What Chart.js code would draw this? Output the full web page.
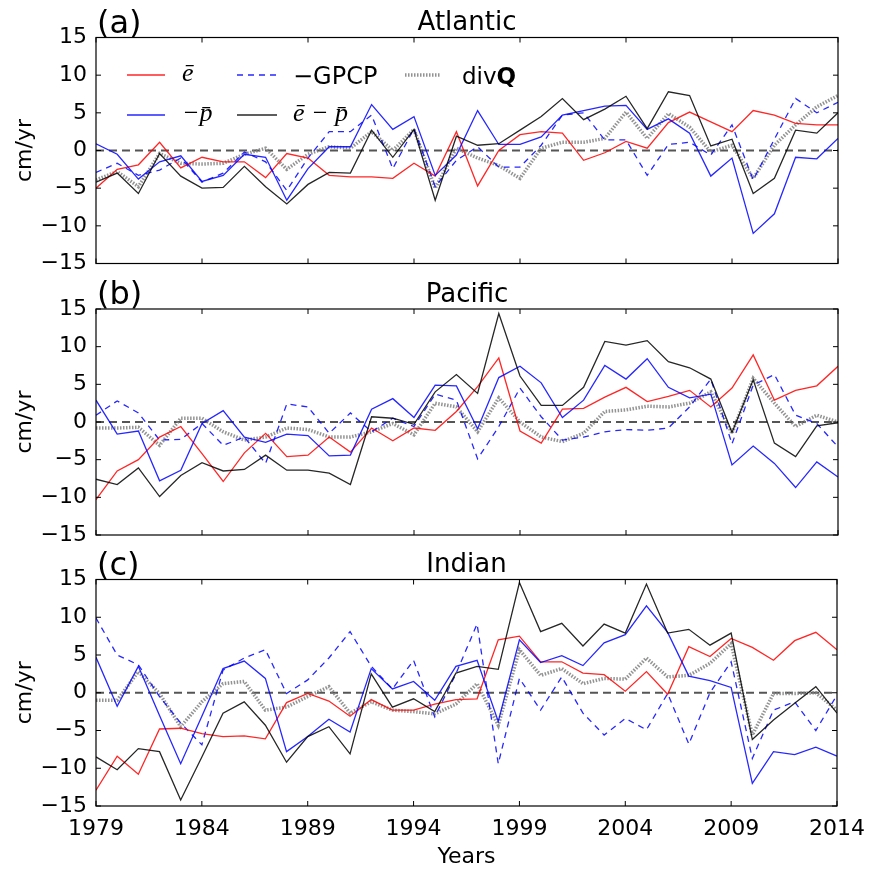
<!DOCTYPE html>
<html><head><meta charset="utf-8">
<script src="https://cdn.jsdelivr.net/npm/chart.js@4.4.0/dist/chart.umd.min.js"></script>
<style>
html,body{margin:0;padding:0;background:#fff;}
#wrap{position:relative;width:875px;height:874px;}
canvas{position:absolute;left:0;top:0;}
</style></head><body>
<div id="wrap">
<canvas id="c0" width="875" height="874"></canvas>
<canvas id="c1" width="875" height="874"></canvas>
<canvas id="c2" width="875" height="874"></canvas>
</div>
<script>
// ---------- data ----------
const years = [1979,1980,1981,1982,1983,1984,1985,1986,1987,1988,1989,1990,
               1991,1992,1993,1994,1995,1996,1997,1998,1999,2000,2001,2002,
               2003,2004,2005,2006,2007,2008,2009,2010,2011,2012,2013,2014];
const xTicks = [1979,1984,1989,1994,1999,2004,2009,2014];
const yTicks = [-15,-10,-5,0,5,10,15];
const panelNames = ['Atlantic','Pacific','Indian'];
const panelTags = ['(a)','(b)','(c)'];
const legendLabels = {e:'ē', p:'\u2212p\u0304', g:'\u2212GPCP', ep:'ē \u2212 p\u0304', dq:'div'};

// Atlantic
const eAtl  = [-5.0,-2.5,-1.9,1.1,-2.3,-0.9,-1.5,-1.5,-3.6,-0.4,-1.0,-3.3, -3.5,-3.5,-3.7,-1.7,-3.4,2.5,-4.7,0.0,2.1,2.5,2.3,-1.3, -0.3,1.2,0.3,3.7,5.1,3.8,2.5,5.3,4.7,3.6,3.4,3.4];
const pAtl  = [0.9,-0.5,-3.8,-1.5,-0.7,-4.1,-3.3,-0.5,-0.9,-6.6,-2.4,0.5, 0.5,6.1,2.8,4.5,-3.3,-0.6,5.3,0.8,0.8,1.8,4.7,5.3, 5.9,6.0,2.8,4.2,2.3,-3.4,-1.0,-11.0,-8.4,-0.9,-1.1,1.6];
const epAtl = [-4.2,-3.0,-5.7,-0.4,-3.4,-5.0,-4.9,-2.1,-4.8,-7.1,-4.5,-2.9, -3.0,2.7,-0.9,2.8,-6.6,1.9,0.7,0.9,2.7,4.5,6.9,4.1, 5.5,7.2,2.9,7.8,7.3,0.6,1.5,-5.7,-3.7,2.7,2.3,5.0];
const gAtl  = [-2.9,-1.7,-3.3,-2.6,-1.0,-4.2,-3.0,-0.2,-1.5,-5.3,-1.0,2.5, 2.5,4.7,-2.4,2.9,-4.8,-1.3,0.5,-2.2,-2.2,0.7,4.7,5.0, 1.4,1.4,-3.3,0.8,1.1,-0.6,3.4,-3.9,1.5,6.9,5.0,6.4];
const dqAtl = [-3.9,-2.8,-4.8,-0.4,-1.7,-1.8,-1.7,-0.5,0.3,-2.5,-0.5,0.5, 0.3,2.5,0.0,2.8,-5.0,0.3,-1.0,-2.0,-3.7,0.3,1.1,1.1, 1.6,5.1,1.6,4.9,3.1,-0.2,0.7,-3.7,0.7,3.4,5.8,7.3];
// Pacific
const ePac  = [-10.3,-6.5,-5.0,-2.0,-0.6,-4.2,-7.9,-4.1,-1.5,-4.6,-4.4,-2.0, -4.0,-0.8,-2.5,-0.8,-1.1,1.4,4.7,8.5,-1.2,-2.8,1.7,1.8, 3.3,4.6,2.7,3.4,4.2,2.0,4.5,8.9,2.9,4.2,4.8,7.4];
const pPac  = [2.9,-1.6,-1.2,-7.8,-6.4,-0.2,1.5,-2.0,-2.7,-1.6,-1.8,-4.5, -4.4,1.7,3.1,0.6,4.9,4.8,-0.9,5.9,7.4,5.2,0.6,2.9, 7.5,5.7,8.4,4.6,3.2,3.7,-5.7,-3.2,-5.5,-8.7,-5.3,-7.3];
const epPac = [-7.6,-8.3,-6.1,-9.9,-7.1,-5.4,-6.5,-6.3,-4.4,-6.4,-6.4,-6.8, -8.3,0.7,0.5,-0.3,4.0,6.3,3.8,14.4,6.1,2.2,2.2,4.6, 10.7,10.2,10.8,8.0,7.2,5.7,-1.4,5.6,-2.8,-4.6,-0.5,-0.1];
const gPac  = [0.9,2.8,1.2,-2.4,-2.3,-0.2,-3.1,-2.0,-5.5,2.4,2.0,-1.5, 1.2,-1.3,0.5,-0.6,3.7,2.9,-4.9,-0.6,4.5,0.7,-2.4,-2.0, -1.3,-1.0,-1.1,-0.8,2.0,5.7,-2.9,4.9,6.3,0.9,-0.2,-3.3];
const dqPac = [-0.8,-0.8,-0.7,-3.1,0.5,0.5,-1.3,-2.4,-2.0,-0.8,-1.0,-2.0, -2.0,-1.3,-0.2,-1.7,2.5,2.0,-1.3,3.2,0.0,-2.0,-2.6,-1.5, 1.4,1.6,2.1,2.0,2.5,4.0,-1.5,5.8,2.5,-0.6,0.9,0.0];
// Indian
const eInd  = [-12.9,-8.4,-10.8,-4.8,-4.7,-5.4,-5.8,-5.7,-6.1,-1.3,-0.1,-1.1, -3.1,-0.9,-2.3,-2.3,-1.5,-0.9,-0.8,7.0,7.5,4.1,4.1,2.6, 2.4,0.2,2.8,-0.2,6.1,4.8,7.2,6.0,4.3,6.9,8.0,5.7];
const pInd  = [4.7,-1.8,3.5,-3.0,-9.4,-3.1,3.2,4.2,1.9,-7.8,-5.8,-3.5, -5.2,3.2,0.5,1.5,-1.0,3.5,4.3,-3.8,7.0,4.0,4.9,3.6, 6.6,7.7,11.5,8.0,2.2,1.6,0.7,-12.0,-7.8,-8.2,-7.2,-8.4];
const epInd = [-8.5,-10.2,-7.4,-7.8,-14.2,-8.5,-2.7,-1.2,-4.3,-9.2,-5.8,-4.5, -8.1,2.5,-1.9,-0.8,-2.5,2.6,3.5,3.1,14.6,8.1,9.2,6.2, 9.1,7.9,14.4,7.9,8.4,6.3,7.9,-6.2,-3.6,-1.4,0.8,-2.7];
const gInd  = [9.9,5.0,3.7,-0.5,-4.0,-6.9,3.0,4.6,5.7,-0.1,1.7,4.6, 8.1,3.5,0.5,4.3,-3.2,2.5,9.1,-9.4,1.9,-2.3,2.1,-2.7, -5.6,-3.4,-4.9,-0.1,-6.8,0.0,4.1,-8.7,-2.3,-1.2,-5.0,-0.3];
const dqInd = [-1.0,-1.0,2.8,-0.1,-4.5,-1.2,1.2,1.5,-2.3,-1.9,-0.5,0.8, -2.7,-1.2,-2.3,-2.5,-2.8,-1.5,1.2,-4.3,5.7,2.3,3.2,1.2, 1.9,1.8,4.6,2.1,2.3,3.9,6.5,-5.6,-0.1,-0.1,0.0,-2.3];

// ---------- styles ----------
const STY = {
  e:  {borderColor:'rgba(255,0,0,0.85)', borderWidth:1.3, borderDash:[]},
  p:  {borderColor:'rgba(0,0,255,0.85)', borderWidth:1.3, borderDash:[]},
  g:  {borderColor:'rgba(0,0,255,0.85)', borderWidth:1.3, borderDash:[6,5]},
  ep: {borderColor:'rgba(0,0,0,0.85)',   borderWidth:1.3, borderDash:[]},
  dq: {borderColor:'rgba(128,128,128,0.85)', borderWidth:3.5, borderDash:[1.5,1.5]}
};
Chart.defaults.font.family = "'DejaVu Sans', sans-serif";

function pts(vals){ return years.map((yr,i)=>({x:yr, y:vals[i]})); }
function ds(key, vals){
  return Object.assign({label:key, data:pts(vals), pointRadius:0, tension:0, fill:false, borderCapStyle:'butt'}, STY[key]);
}

function drawLegend(ctx, a){
  const L = a.left;
  const rows = [a.top+37.5, a.top+77.5];
  const cols = [{l:L+31,r:L+69,t:L+86},{l:L+141,r:L+181,t:L+197},{l:L+309,r:L+344,t:L+366}];
  const items = [['e',0,0],['p',0,1],['g',1,0],['ep',1,1],['dq',2,0]];
  ctx.save();
  items.forEach(([k,c,r])=>{
    const s = STY[k], col = cols[c], y = rows[r];
    ctx.strokeStyle = s.borderColor; ctx.lineWidth = s.borderWidth; ctx.setLineDash(s.borderDash); ctx.lineCap='butt';
    ctx.beginPath(); ctx.moveTo(col.l, y); ctx.lineTo(col.r, y); ctx.stroke();
    ctx.setLineDash([]);
    ctx.fillStyle = '#000'; ctx.textBaseline = 'alphabetic'; ctx.textAlign='left';
    if (k==='g'){
      ctx.font = "24px 'DejaVu Sans'"; ctx.fillText(legendLabels.g, col.t, y+9);
    } else if (k==='dq'){
      ctx.font = "23px 'DejaVu Sans'"; ctx.fillText(legendLabels.dq, col.t, y+9);
      const w = ctx.measureText(legendLabels.dq).width;
      ctx.font = "bold 23px 'DejaVu Sans'"; ctx.fillText('Q', col.t+w, y+9);
    } else {
      ctx.font = "italic 26px 'Liberation Serif'"; ctx.fillText(legendLabels[k], col.t, y+6);
    }
  });
  ctx.restore();
}

function panelPlugin(idx){
  return {
    id:'panel'+idx,
    beforeDatasetsDraw(chart){
      const {ctx, chartArea:a, scales:{y}} = chart;
      const y0 = y.getPixelForValue(0);
      ctx.save();
      ctx.strokeStyle = '#555'; ctx.lineWidth = 2; ctx.setLineDash([8,5]);
      ctx.beginPath(); ctx.moveTo(a.left, y0); ctx.lineTo(a.right, y0); ctx.stroke();
      ctx.restore();
    },
    afterDraw(chart){
      const {ctx, chartArea:a, scales:{x,y}} = chart;
      ctx.save();
      ctx.strokeStyle = '#000'; ctx.lineWidth = 1.2; ctx.setLineDash([]);
      ctx.strokeRect(a.left, a.top, a.right-a.left, a.bottom-a.top);
      ctx.lineWidth = 1;
      ctx.beginPath();
      xTicks.forEach(v=>{ const px = x.getPixelForValue(v);
        ctx.moveTo(px, a.bottom); ctx.lineTo(px, a.bottom-5);
        ctx.moveTo(px, a.top); ctx.lineTo(px, a.top+5); });
      yTicks.forEach(v=>{ const py = y.getPixelForValue(v);
        ctx.moveTo(a.left, py); ctx.lineTo(a.left+5, py);
        ctx.moveTo(a.right, py); ctx.lineTo(a.right-5, py); });
      ctx.stroke();
      ctx.fillStyle = '#000';
      ctx.textBaseline = 'alphabetic';
      ctx.textAlign = 'left';
      ctx.font = "32px 'DejaVu Sans'";
      ctx.fillText(panelTags[idx], a.left+1, a.top-5);
      ctx.textAlign = 'center';
      ctx.font = "26px 'DejaVu Sans'";
      ctx.fillText(panelNames[idx], (a.left+a.right)/2, a.top-7.5);
      ctx.restore();
      if (idx===0) drawLegend(ctx, a);
    }
  };
}

const panels = [
  {id:'c0', top:37.5, bottom:874-263.5, s:[eAtl,pAtl,gAtl,epAtl,dqAtl]},
  {id:'c1', top:309,  bottom:874-535,   s:[ePac,pPac,gPac,epPac,dqPac]},
  {id:'c2', top:579.5, bottom:0,        s:[eInd,pInd,gInd,epInd,dqInd]}
];
const tickFont = {family:"'DejaVu Sans'", size:22};

panels.forEach((P, idx)=>{
  const showX = idx===2;
  const [e,p,g,ep,dq] = P.s;
  new Chart(document.getElementById(P.id), {
    type:'line',
    data:{datasets:[ds('ep',ep), ds('p',p), ds('e',e), ds('g',g), ds('dq',dq)]},
    options:{
      responsive:false, animation:false, devicePixelRatio:1, events:[],
      layout:{padding:{left:0, right:37, top:P.top, bottom:P.bottom}},
      plugins:{legend:{display:false}, tooltip:{enabled:false}, title:{display:false}},
      scales:{
        x:{type:'linear', min:1979, max:2014, display:showX,
           afterBuildTicks: ax=>{ ax.ticks = xTicks.map(v=>({value:v})); },
           grid:{display:false, drawTicks:false}, border:{display:false},
           ticks:{autoSkip:false, maxRotation:0, font:tickFont, color:'#000', padding:10, callback:v=>String(v)},
           title:{display:showX, text:'Years', font:tickFont, color:'#000', padding:{top:0,bottom:4}},
           afterFit: ax=>{ ax.height = showX ? 68 : 0; }},
        y:{type:'linear', min:-15, max:15,
           afterBuildTicks: ax=>{ ax.ticks = yTicks.map(v=>({value:v})); },
           grid:{display:false, drawTicks:false}, border:{display:false},
           ticks:{autoSkip:false, font:tickFont, color:'#000', padding:9, callback:v=> v<0 ? '\u2212'+Math.abs(v) : String(v)},
           title:{display:true, text:'cm/yr', font:tickFont, color:'#000', padding:{top:12,bottom:0}},
           afterFit: ax=>{ ax.width = 96; }}
      }
    },
    plugins:[panelPlugin(idx)]
  });
});
</script>
</body></html>
